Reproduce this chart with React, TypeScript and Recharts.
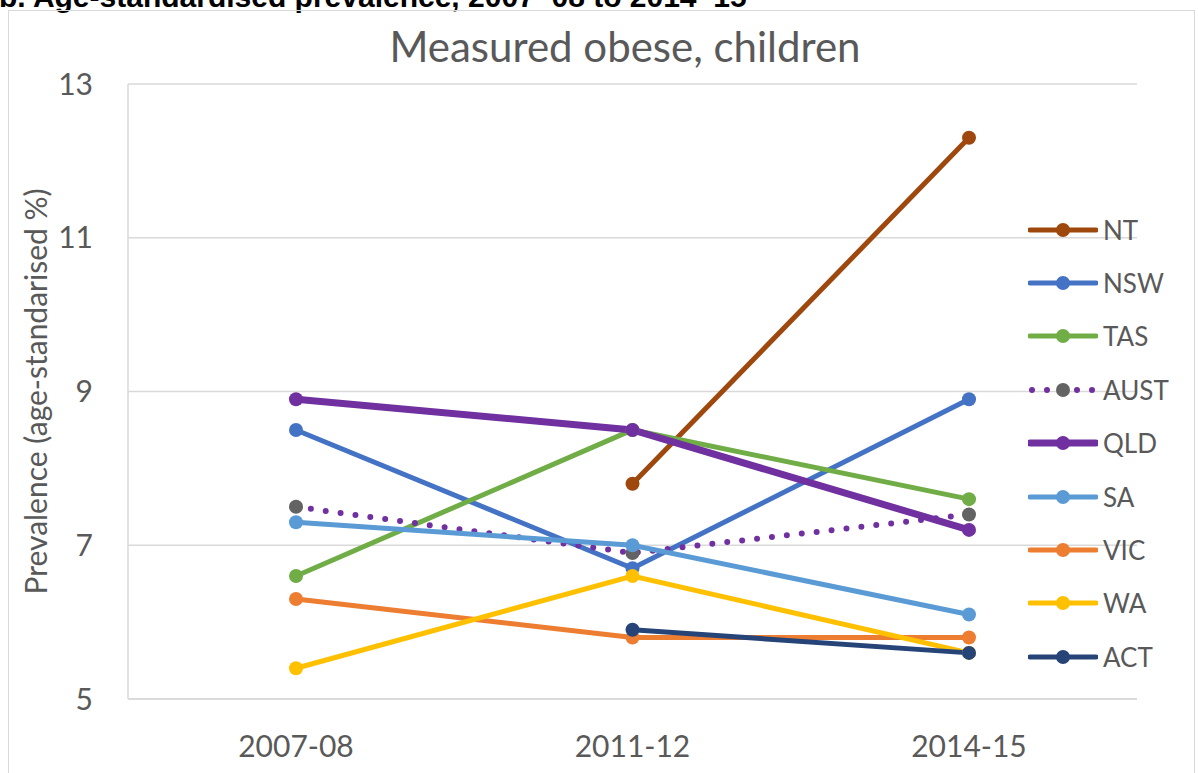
import { LineChart, Line, XAxis, YAxis, CartesianGrid, Legend } from "recharts";

const YEARS = ["2007-08", "2011-12", "2014-15"];
const NT = [null, 7.8, 12.3];
const NSW = [8.5, 6.7, 8.9];
const TAS = [6.6, 8.5, 7.6];
const AUST = [7.5, 6.9, 7.4];
const QLD = [8.9, 8.5, 7.2];
const SA = [7.3, 7.0, 6.1];
const VIC = [6.3, 5.8, 5.8];
const WA = [5.4, 6.6, 5.6];
const ACT = [null, 5.9, 5.6];
const Y_TICKS = [5, 7, 9, 11, 13];

const FONT = "Lato, 'Noto Sans', sans-serif";
const TEXT = "#595959";
const GRID = "#D9D9D9";

type Series = {
  key: string;
  values: (number | null)[];
  color: string;
  dotColor?: string;
  width?: number;
  dotted?: boolean;
};

// legend order is also the drawing order (later series sit on top)
const SERIES: Series[] = [
  { key: "NT", values: NT, color: "#9E480E" },
  { key: "NSW", values: NSW, color: "#4472C4" },
  { key: "TAS", values: TAS, color: "#70AD47" },
  { key: "AUST", values: AUST, color: "#7030A0", dotColor: "#636363", width: 6, dotted: true },
  { key: "QLD", values: QLD, color: "#7030A0", width: 7 },
  { key: "SA", values: SA, color: "#5B9BD5" },
  { key: "VIC", values: VIC, color: "#ED7D31" },
  { key: "WA", values: WA, color: "#FFC000" },
  { key: "ACT", values: ACT, color: "#264478" },
];

const data = YEARS.map((year, i) => {
  const row: Record<string, string | number | null> = { year };
  SERIES.forEach((s) => {
    row[s.key] = s.values[i];
  });
  return row;
});

function LegendList() {
  return (
    <div style={{ fontFamily: FONT }}>
      {SERIES.map((s) => (
        <div key={s.key} style={{ display: "flex", alignItems: "center", height: 53.4 }}>
          <svg width={70} height={20}>
            <line
              x1={s.dotted ? 4 : 2}
              x2={68}
              y1={10}
              y2={10}
              stroke={s.color}
              strokeWidth={s.width ?? 5}
              strokeLinecap="round"
              strokeDasharray={s.dotted ? "0 15" : undefined}
            />
            <circle cx={35} cy={10} r={7} fill={s.dotColor ?? s.color} />
          </svg>
          <span style={{ marginLeft: 5, fontSize: 26, color: TEXT, lineHeight: "26px" }}>{s.key}</span>
        </div>
      ))}
    </div>
  );
}

export default function App() {
  return (
    <div
      style={{
        position: "absolute",
        left: 0,
        top: 0,
        width: 1198,
        height: 773,
        overflow: "hidden",
        background: "#fff",
      }}
    >
      <div
        style={{
          position: "absolute",
          left: -1,
          top: -18,
          fontFamily: "'Liberation Sans', Arial, sans-serif",
          fontWeight: 700,
          fontSize: 30,
          lineHeight: "30px",
          whiteSpace: "nowrap",
          color: "#000",
        }}
      >
        b. Age-standardised prevalence, 2007–08 to 2014–15
      </div>
      <div
        style={{
          position: "absolute",
          left: 8,
          top: 10,
          width: 1187,
          height: 800,
          boxSizing: "border-box",
          border: `1.5px solid ${GRID}`,
        }}
      />
      <div
        style={{
          position: "absolute",
          left: 325,
          top: 25,
          width: 600,
          textAlign: "center",
          fontFamily: FONT,
          fontSize: 42,
          lineHeight: "42px",
          color: TEXT,
        }}
      >
        Measured obese, children
      </div>
      <div style={{ position: "absolute", left: 0, top: 0 }}>
        <LineChart width={1198} height={773} data={data} margin={{ top: 84, right: 61, bottom: 0, left: 0 }}>
          <CartesianGrid vertical={false} stroke={GRID} strokeWidth={1.5} />
          <XAxis
            dataKey="year"
            height={74}
            padding={{ left: 168, right: 168 }}
            tickLine={false}
            tickSize={0}
            tickMargin={37}
            axisLine={{ stroke: GRID, strokeWidth: 1.5 }}
            tick={{ fontSize: 30, fill: TEXT, fontFamily: FONT }}
          />
          <YAxis
            domain={[5, 13]}
            ticks={Y_TICKS}
            width={128}
            tickLine={false}
            tickSize={0}
            tickMargin={35}
            axisLine={{ stroke: GRID, strokeWidth: 1.5 }}
            tick={{ fontSize: 30, fill: TEXT, fontFamily: FONT }}
            label={{
              value: "Prevalence (age-standarised %)",
              angle: -90,
              position: "insideLeft",
              offset: 36,
              style: { textAnchor: "middle", fontSize: 30, fill: TEXT, fontFamily: FONT },
            }}
          />
          <Legend
            layout="vertical"
            align="center"
            verticalAlign="middle"
            wrapperStyle={{ left: 1028, top: 203, width: 170 }}
            content={() => <LegendList />}
          />
          {SERIES.map((s) => (
            <Line
              key={s.key}
              dataKey={s.key}
              stroke={s.color}
              strokeWidth={s.width ?? 5}
              strokeLinecap="round"
              strokeDasharray={s.dotted ? "0 15" : undefined}
              dot={{ r: 7, fill: s.dotColor ?? s.color, stroke: "none" }}
              activeDot={false}
              isAnimationActive={false}
            />
          ))}
        </LineChart>
      </div>
    </div>
  );
}
